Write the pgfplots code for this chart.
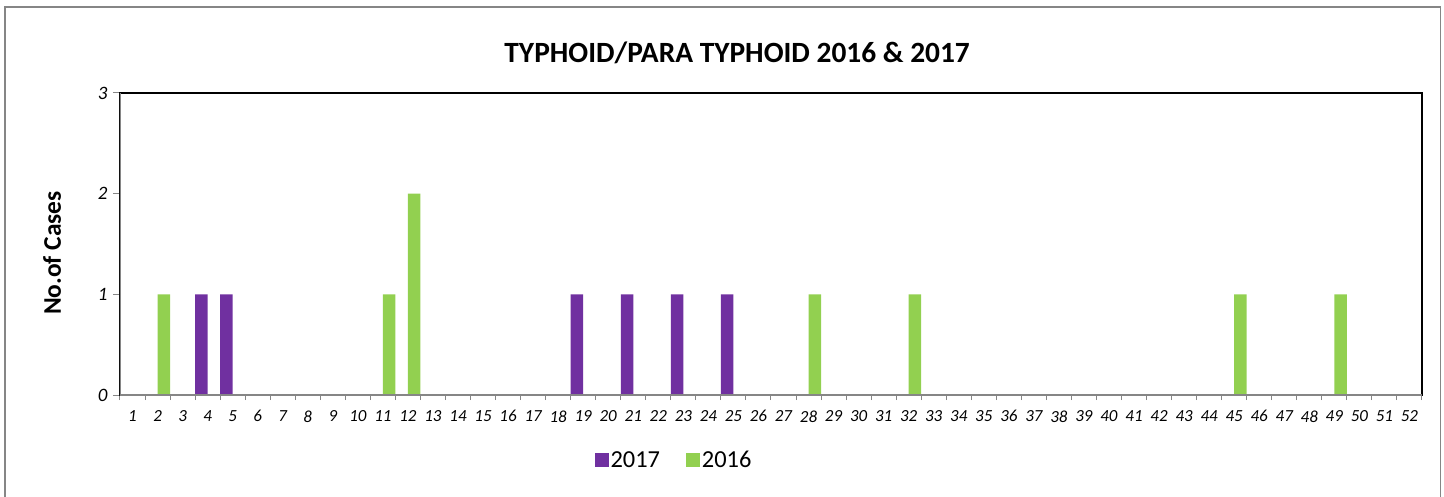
\documentclass[border=0pt]{standalone}
\usepackage{fontspec}
\setmainfont{Carlito}
\usepackage{pgfplots}
\pgfplotsset{compat=1.18}
\definecolor{purp}{HTML}{7030A0}
\definecolor{grn}{HTML}{92D050}
\definecolor{axgray}{HTML}{868686}
\begin{document}
\begin{tikzpicture}
\begin{axis}[
  name=ax,
  scale only axis, width=1302bp, height=302bp,
  xmin=0.5, xmax=52.5, ymin=0, ymax=3,
  ybar=0pt, bar width=0.5,
  axis line style={black, line width=1.5bp},
  xtick={1,...,52},
  minor xtick={0.5,1.5,...,52.5},
  ytick={0,1,2,3},
  tick pos=left, tick align=outside,
  major tick length=7bp, minor tick length=5bp,
  major x tick style={draw=none},
  minor x tick style={axgray, line width=1bp},
  major y tick style={axgray, line width=1bp},
  /pgf/number format/assume math mode=true,
  xticklabel style={font=\fontsize{17}{19}\selectfont\itshape, yshift=-5bp},
  yticklabel style={font=\fontsize{19}{21}\selectfont\itshape, xshift=-2bp},
  title={TYPHOID/PARA TYPHOID 2016 \& 2017},
  title style={at={(0.474,1.113)}, anchor=center, font=\fontsize{29.5}{32}\selectfont\bfseries},
  ylabel={No.of Cases},
  ylabel style={at={(-0.0522,0.47)}, anchor=center, font=\fontsize{25.5}{28}\selectfont\bfseries},
  legend style={at={(0.4255,-0.215)}, anchor=center, draw=none, fill=none,
    legend columns=2, font=\fontsize{24.5}{26}\selectfont,
    /tikz/every even column/.append style={column sep=24bp}},
  legend image code/.code={\fill[#1] (0bp,-7bp) rectangle (14bp,7bp);},
]
\addplot[fill=purp, draw=none] coordinates {(4,1) (5,1) (19,1) (21,1) (23,1) (25,1)};
\addplot[fill=grn, draw=none] coordinates {(2,1) (11,1) (12,2) (28,1) (32,1) (45,1) (49,1)};
\legend{2017,2016}
\draw[axgray, line width=1.5bp] (rel axis cs:0,1) -- (rel axis cs:0,0) -- (rel axis cs:1,0);
\end{axis}
\path[use as bounding box] ([shift={(-120bp,-102bp)}]ax.south west) rectangle ([shift={(1324bp,395bp)}]ax.south west);
\draw[axgray, line width=1.5bp] ([shift={(-115bp,-115bp)}]ax.south west) rectangle ([shift={(1320.5bp,388bp)}]ax.south west);
\end{tikzpicture}
\end{document}
